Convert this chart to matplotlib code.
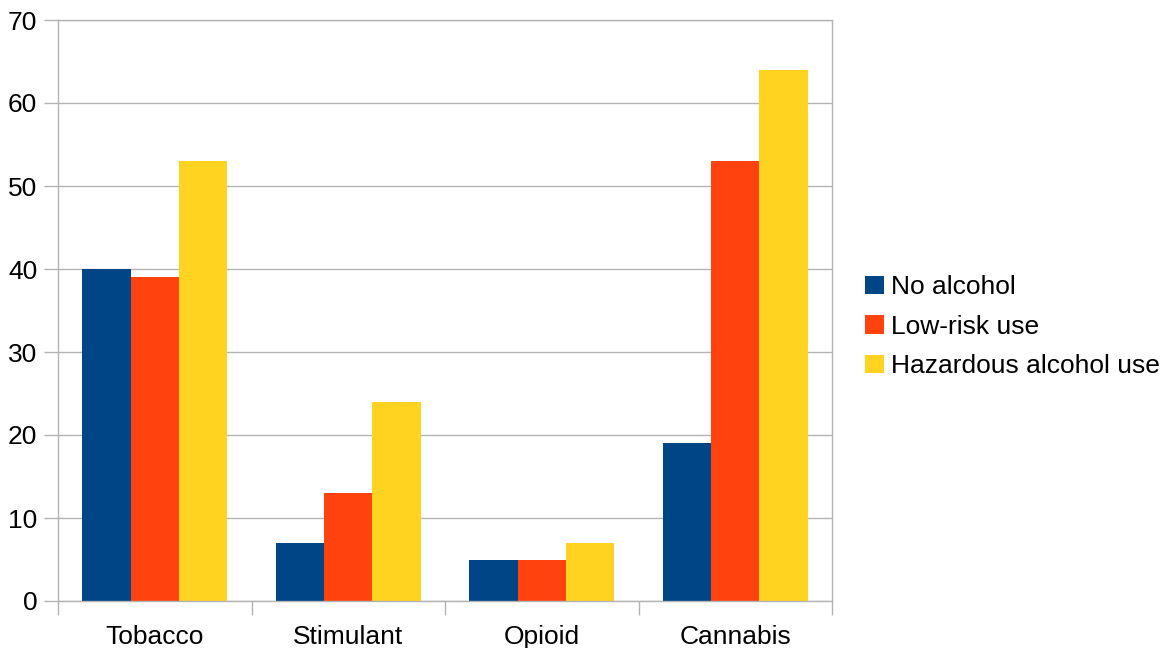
import numpy as np
import matplotlib.pyplot as plt

plt.rcParams['font.family'] = ['Liberation Sans', 'DejaVu Sans']

categories = ['Tobacco', 'Stimulant', 'Opioid', 'Cannabis']
series_names = ['No alcohol', 'Low-risk use', 'Hazardous alcohol use']
no_alcohol = [40, 7, 5, 19]
low_risk = [39, 13, 5, 53]
hazardous = [53, 24, 7, 64]
colors = ['#004586', '#ff420e', '#ffd320']

fig = plt.figure(figsize=(11.69, 6.48), dpi=100)
ax = fig.add_axes([58 / 1169, 47 / 648, 774 / 1169, 581 / 648])

x = np.arange(len(categories))
width = 0.25
for i, (vals, name, c) in enumerate(zip([no_alcohol, low_risk, hazardous], series_names, colors)):
    ax.bar(x + (i - 1) * width, vals, width, color=c, label=name, zorder=2)

ax.set_xlim(-0.5, len(categories) - 0.5)
ax.set_ylim(0, 70)
ax.set_yticks(range(0, 71, 10))
ax.yaxis.grid(True, color='#b3b3b3', linewidth=1, zorder=0)

# category labels centered, tick marks at the group boundaries
ax.set_xticks(x)
ax.set_xticklabels(categories, fontsize=19)
ax.set_xticks(np.arange(-0.5, len(categories), 1), minor=True)
ax.tick_params(axis='x', which='major', length=0, pad=17)
ax.tick_params(axis='x', which='minor', length=10, color='#b3b3b3', width=1)
ax.tick_params(axis='y', length=10, color='#b3b3b3', width=1, labelsize=19, pad=5)

for s in ax.spines.values():
    s.set_color('#b3b3b3')
    s.set_linewidth(1)

ax.legend(loc='center left', bbox_to_anchor=(1.012, 0.472), frameon=False, fontsize=19,
          handlelength=0.7, handleheight=0.7, handletextpad=0.3, labelspacing=0.58)

fig.savefig('out.png', dpi=100)
